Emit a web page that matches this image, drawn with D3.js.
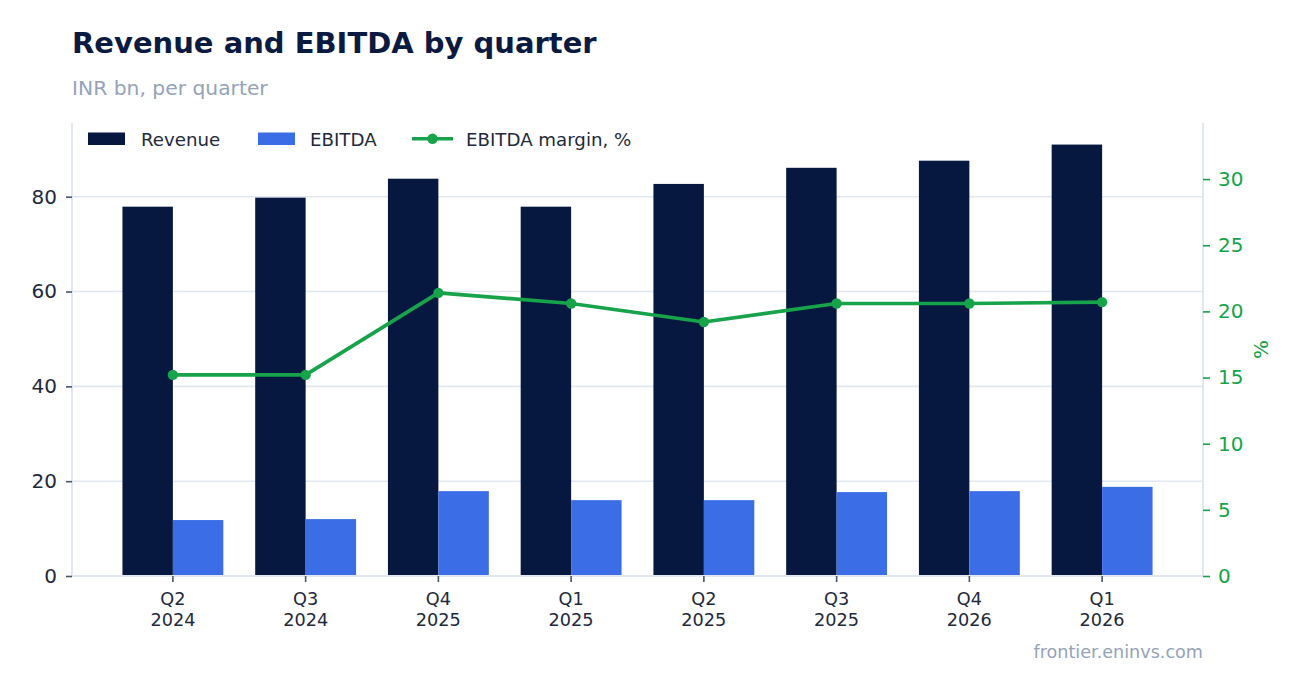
<!DOCTYPE html>
<html>
<head>
<meta charset="utf-8">
<script src="https://cdn.jsdelivr.net/npm/d3@7"></script>
<style>
  html, body { margin: 0; padding: 0; background: #ffffff; }
  svg { display: block; font-family: "DejaVu Sans", sans-serif; }
</style>
</head>
<body>
<svg id="chart" width="1302" height="693"></svg>
<script>
// ---- data ----
const quarters = ["Q2", "Q3", "Q4", "Q1", "Q2", "Q3", "Q4", "Q1"];
const years = ["2024", "2024", "2025", "2025", "2025", "2025", "2026", "2026"];
const revenue = [77.9, 79.8, 83.8, 77.9, 82.7, 86.1, 87.6, 91.0];
const ebitda = [11.8, 12.0, 17.9, 16.0, 16.0, 17.7, 17.9, 18.8];
const margin = [15.2, 15.2, 21.4, 20.6, 19.2, 20.6, 20.6, 20.7];
const leftTicks = [0, 20, 40, 60, 80];
const rightTicks = [0, 5, 10, 15, 20, 25, 30];
const seriesNames = ["Revenue", "EBITDA", "EBITDA margin, %"];

const categories = quarters.map((q, i) => q + " " + years[i]);
const barRows = categories.map((c, i) => ({ cat: c, Revenue: revenue[i], EBITDA: ebitda[i] }));

// ---- style ----
const C = {
  revenue: "#061740",
  ebitda: "#3b6de6",
  green: "#16a34a",
  title: "#0b1a40",
  sub: "#94a3b8",
  grid: "#e2e8f0",
  tickText: "#1e293b",
  tick: "#475569"
};

const svg = d3.select("#chart");
const L = 72, R = 1203, T = 123, B = 576;

const x = d3.scaleBand().domain(categories).range([L, R]).paddingInner(0.24).paddingOuter(0.38);
const xs = d3.scaleBand().domain(["Revenue", "EBITDA"]).range([0, x.bandwidth()]).padding(0);
const y = d3.scaleLinear().domain([0, d3.max(revenue) * 1.05]).range([B, T]);
const y2 = d3.scaleLinear().domain([0, d3.max(margin) * 1.6]).range([B, T]);

// title
svg.append("text").attr("x", 72).attr("y", 53).attr("font-size", 29).attr("font-weight", "bold")
  .attr("fill", C.title).text("Revenue and EBITDA by quarter");
svg.append("text").attr("x", 72).attr("y", 94.5).attr("font-size", 20.3)
  .attr("fill", C.sub).text("INR bn, per quarter");

// gridlines
svg.append("g").selectAll("line").data(leftTicks.filter(d => d > 0)).join("line")
  .attr("x1", L).attr("x2", R).attr("y1", d => y(d)).attr("y2", d => y(d))
  .attr("stroke", C.grid).attr("stroke-width", 1.6);

// bars
const groups = svg.append("g").selectAll("g").data(barRows).join("g")
  .attr("transform", d => `translate(${x(d.cat)},0)`);
groups.selectAll("rect").data(d => ["Revenue", "EBITDA"].map(k => ({ k, v: d[k] }))).join("rect")
  .attr("x", d => xs(d.k)).attr("width", xs.bandwidth())
  .attr("y", d => y(d.v)).attr("height", d => y(0) - y(d.v))
  .attr("fill", d => d.k === "Revenue" ? C.revenue : C.ebitda);

// spines
svg.append("line").attr("x1", L).attr("x2", L).attr("y1", T).attr("y2", B).attr("stroke", C.grid).attr("stroke-width", 2);
svg.append("line").attr("x1", R).attr("x2", R).attr("y1", T).attr("y2", B).attr("stroke", C.grid).attr("stroke-width", 2);
svg.append("line").attr("x1", L).attr("x2", R).attr("y1", B).attr("y2", B).attr("stroke", C.grid).attr("stroke-width", 2);

// line
const cx = i => x(categories[i]) + x.bandwidth() / 2;
const lineGen = d3.line().x((d, i) => cx(i)).y(d => y2(d));
svg.append("path").datum(margin).attr("d", lineGen).attr("fill", "none")
  .attr("stroke", C.green).attr("stroke-width", 3.6).attr("stroke-linejoin", "round");
svg.append("g").selectAll("circle").data(margin).join("circle")
  .attr("cx", (d, i) => cx(i)).attr("cy", d => y2(d)).attr("r", 5.2).attr("fill", C.green);

// left axis
const gl = svg.append("g").attr("transform", `translate(${L},0)`)
  .call(d3.axisLeft(y).tickValues(leftTicks).tickSize(6).tickPadding(9).tickFormat(d3.format("d")));
gl.select(".domain").remove();
gl.selectAll(".tick line").attr("stroke", C.tick).attr("stroke-width", 1.6);
gl.selectAll(".tick text").attr("font-size", 20).attr("fill", C.tickText).attr("font-family", "DejaVu Sans");

// right axis
const gr = svg.append("g").attr("transform", `translate(${R},0)`)
  .call(d3.axisRight(y2).tickValues(rightTicks).tickSize(7).tickPadding(8).tickFormat(d3.format("d")));
gr.select(".domain").remove();
gr.selectAll(".tick line").attr("stroke", C.green).attr("stroke-width", 1.6);
gr.selectAll(".tick text").attr("font-size", 20).attr("fill", C.green).attr("font-family", "DejaVu Sans");

svg.append("text").attr("transform", `translate(1268,${(T + B) / 2}) rotate(-90)`)
  .attr("text-anchor", "middle").attr("font-size", 20).attr("fill", C.green).text("%");

// bottom axis
const gb = svg.append("g").attr("transform", `translate(0,${B})`)
  .call(d3.axisBottom(x).tickSize(6).tickPadding(4).tickFormat(() => ""));
gb.select(".domain").remove();
gb.selectAll(".tick line").attr("stroke", C.tick).attr("stroke-width", 1.6);
gb.selectAll(".tick text").remove();
const xl = svg.append("g").selectAll("text").data(categories).join("text")
  .attr("x", d => x(d) + x.bandwidth() / 2).attr("text-anchor", "middle")
  .attr("font-size", 17.7).attr("fill", C.tickText);
xl.append("tspan").attr("x", d => x(d) + x.bandwidth() / 2).attr("y", 604.5).text((d, i) => quarters[i]);
xl.append("tspan").attr("x", d => x(d) + x.bandwidth() / 2).attr("y", 625.5).text((d, i) => years[i]);

// legend
const lg = svg.append("g");
lg.append("rect").attr("x", 88).attr("y", 132.5).attr("width", 37).attr("height", 12.5).attr("fill", C.revenue);
lg.append("text").attr("x", 141).attr("y", 145.5).attr("font-size", 18.2).attr("fill", C.tickText).text(seriesNames[0]);
lg.append("rect").attr("x", 258).attr("y", 132.5).attr("width", 37).attr("height", 12.5).attr("fill", C.ebitda);
lg.append("text").attr("x", 310).attr("y", 145.5).attr("font-size", 18.2).attr("fill", C.tickText).text(seriesNames[1]);
lg.append("line").attr("x1", 412).attr("x2", 453).attr("y1", 138.7).attr("y2", 138.7).attr("stroke", C.green).attr("stroke-width", 3.6);
lg.append("circle").attr("cx", 432.5).attr("cy", 138.7).attr("r", 5.2).attr("fill", C.green);
lg.append("text").attr("x", 466).attr("y", 145.5).attr("font-size", 18.2).attr("fill", C.tickText).text(seriesNames[2]);

// watermark
svg.append("text").attr("x", 1203).attr("y", 658).attr("text-anchor", "end").attr("font-size", 17.6)
  .attr("fill", C.sub).text("frontier.eninvs.com");
</script>
</body>
</html>
